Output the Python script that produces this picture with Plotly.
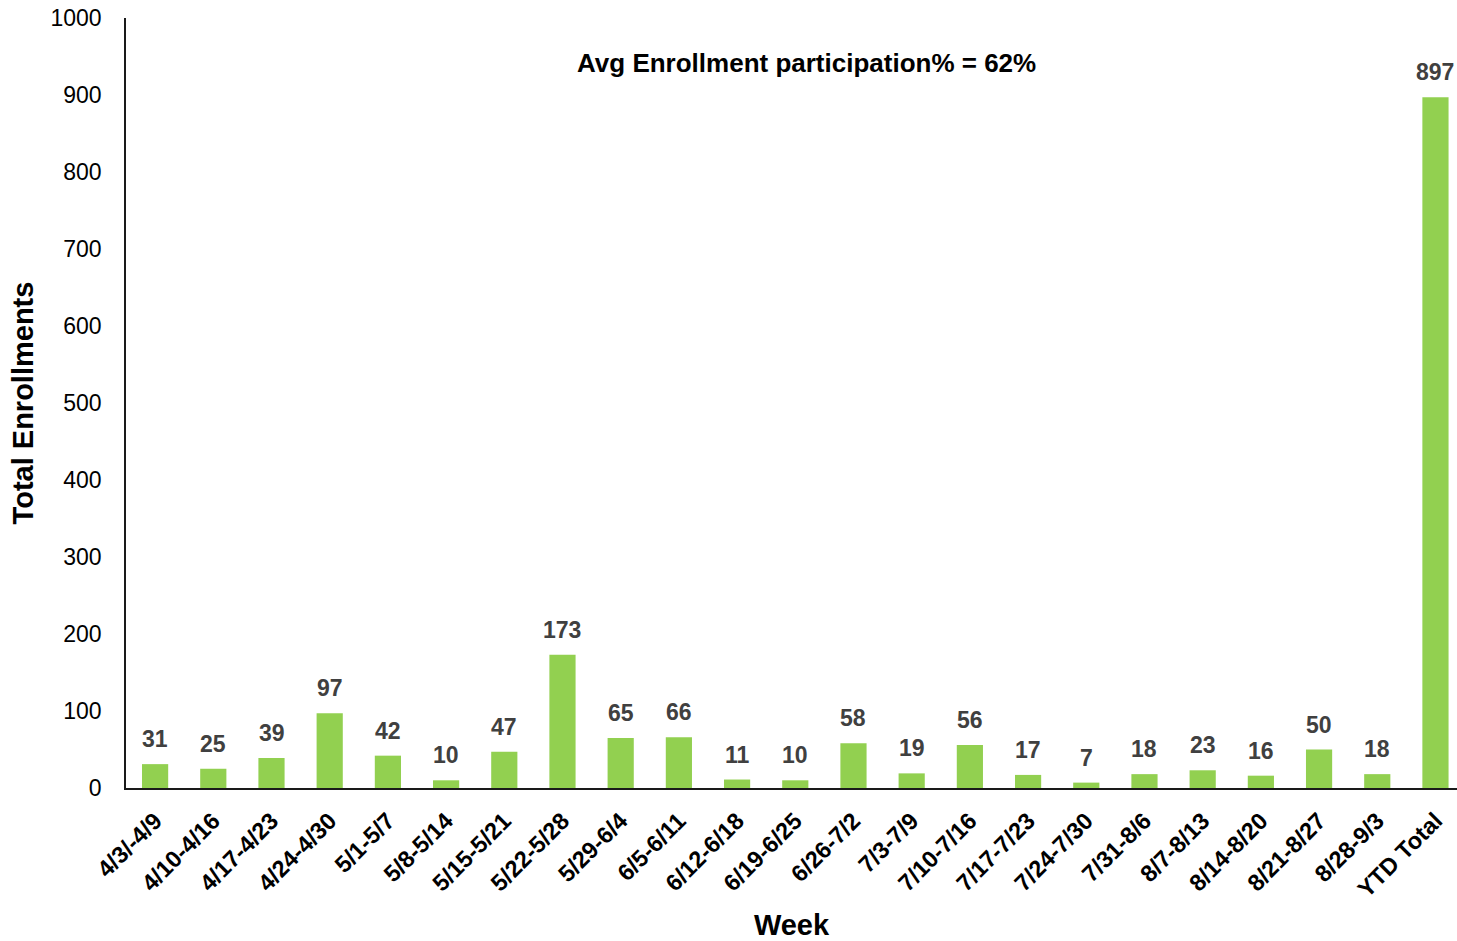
import plotly.graph_objects as go

weeks = ["4/3/-4/9", "4/10-4/16", "4/17-4/23", "4/24-4/30", "5/1-5/7", "5/8-5/14",
         "5/15-5/21", "5/22-5/28", "5/29-6/4", "6/5-6/11", "6/12-6/18", "6/19-6/25",
         "6/26-7/2", "7/3-7/9", "7/10-7/16", "7/17-7/23", "7/24-7/30", "7/31-8/6",
         "8/7-8/13", "8/14-8/20", "8/21-8/27", "8/28-9/3", "YTD Total"]
enrollments = [31, 25, 39, 97, 42, 10, 47, 173, 65, 66, 11, 10, 58, 19, 56, 17, 7, 18,
               23, 16, 50, 18, 897]
y_ticks = [0, 100, 200, 300, 400, 500, 600, 700, 800, 900, 1000]
note = "Avg Enrollment participation% = 62%"

FONT = "Liberation Sans, Arial, sans-serif"

fig = go.Figure(go.Bar(
    x=weeks, y=enrollments,
    marker=dict(color="#92D050", line=dict(width=0)),
    width=0.45,
    cliponaxis=False,
))

annotations = [
    dict(x=w, y=v, xref="x", yref="y", text="<b>%d</b>" % v, showarrow=False,
         xanchor="center", yanchor="bottom", yshift=10,
         font=dict(family=FONT, size=23, color="#404040"))
    for w, v in zip(weeks, enrollments)
]
annotations.append(dict(
    text="<b>" + note + "</b>", x=0.5116, y=0.9416, xref="paper", yref="paper",
    xanchor="center", yanchor="middle",
    showarrow=False, font=dict(family=FONT, size=26, color="black"),
))

fig.update_layout(
    width=1457, height=941,
    margin=dict(l=126, r=0, t=18, b=153),
    plot_bgcolor="white", paper_bgcolor="white",
    font=dict(family=FONT, color="black"),
    showlegend=False,
    xaxis=dict(
        title=dict(text="<b>Week</b>", font=dict(size=29, color="black"), standoff=18),
        tickangle=-45,
        tickfont=dict(size=23.5, color="black"),
        tickvals=weeks,
        ticktext=["<b>" + w + "</b>" for w in weeks],
        showline=True, linecolor="#1a1a1a", linewidth=1.5,
        ticks="", showgrid=False,
        ticklabelstandoff=8,
        range=[-0.5, 22.37],
    ),
    yaxis=dict(
        title=dict(text="<b>Total Enrollments</b>", font=dict(size=29, color="black"), standoff=8),
        range=[0, 1000.001],
        tickvals=y_ticks,
        tickfont=dict(size=23, color="black"),
        showline=True, linecolor="#1a1a1a", linewidth=1.5,
        ticks="", showgrid=False, zeroline=False,
        ticklabelstandoff=18,
    ),
    annotations=annotations,
)

fig.write_html("out.html", config={"displayModeBar": False},
               post_script="document.body.style.margin='0';")
